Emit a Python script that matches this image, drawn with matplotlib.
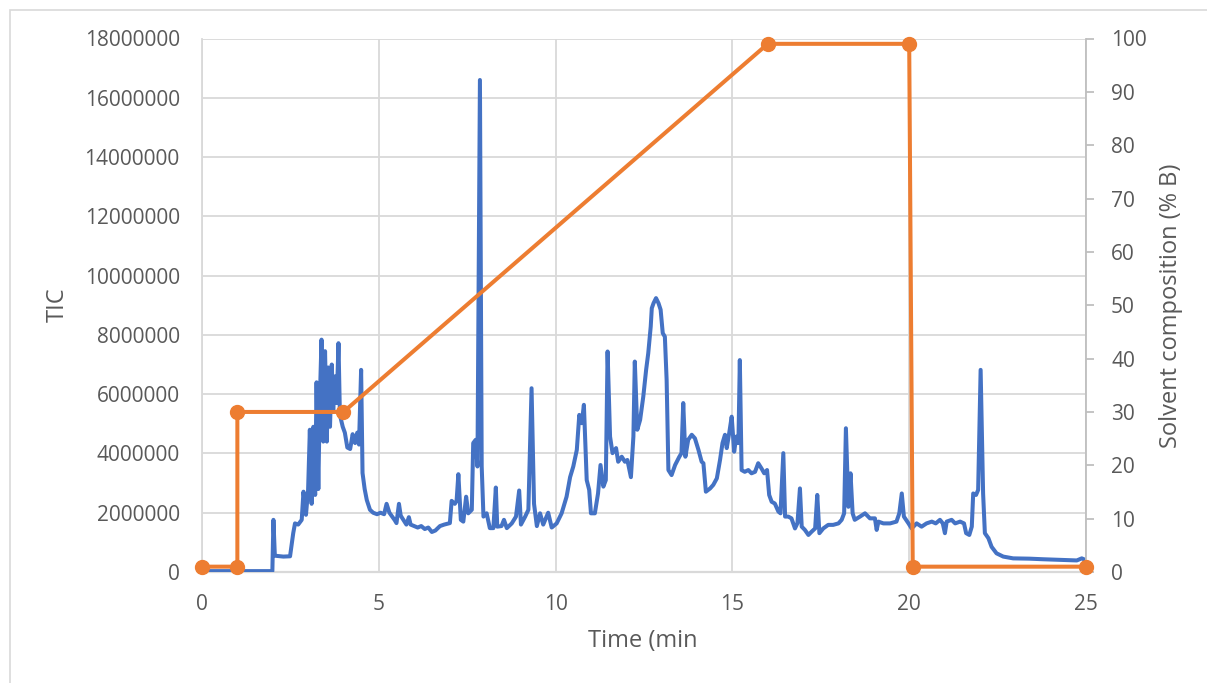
import numpy as np
import matplotlib
matplotlib.use("Agg")
import matplotlib.pyplot as plt
from matplotlib.patches import Rectangle

# ---------------- data ----------------
time_min = [0.0, 1.99, 2.02, 2.06, 2.3, 2.49, 2.58, 2.63, 2.72, 2.82, 2.87, 2.94, 3.0, 3.05, 3.1,
            3.15, 3.2, 3.24, 3.29, 3.33, 3.38, 3.43, 3.48, 3.53, 3.57, 3.62, 3.67, 3.71, 3.76, 3.81,
            3.86, 3.9, 3.98, 4.04, 4.11, 4.19, 4.26, 4.33, 4.39, 4.44, 4.5, 4.54, 4.6, 4.66, 4.75,
            4.84, 4.95, 5.05, 5.15, 5.22, 5.3, 5.36, 5.45, 5.5, 5.57, 5.62, 5.7, 5.78, 5.85, 5.9,
            6.0, 6.1, 6.2, 6.3, 6.4, 6.5, 6.6, 6.73, 6.85, 7.01, 7.06, 7.15, 7.2, 7.25, 7.32,
            7.39, 7.47, 7.53, 7.63, 7.67, 7.74, 7.79, 7.86, 7.91, 7.96, 8.05, 8.14, 8.24, 8.31, 8.35,
            8.47, 8.54, 8.62, 8.76, 8.88, 8.97, 9.02, 9.14, 9.23, 9.32, 9.39, 9.47, 9.56, 9.65, 9.79,
            9.89, 10.03, 10.17, 10.31, 10.41, 10.5, 10.6, 10.67, 10.74, 10.8, 10.88, 10.95, 11.0, 11.11,
            11.2, 11.27, 11.35, 11.42, 11.47, 11.54, 11.61, 11.71, 11.77, 11.87, 11.96, 12.03, 12.13,
            12.2, 12.24, 12.31, 12.39, 12.48, 12.56, 12.62, 12.69, 12.72, 12.77, 12.84, 12.91, 12.97,
            13.03, 13.09, 13.14, 13.19, 13.28, 13.38, 13.5, 13.56, 13.61, 13.67, 13.75, 13.85, 13.94,
            14.04, 14.13, 14.18, 14.25, 14.37, 14.46, 14.56, 14.65, 14.72, 14.79, 14.84, 14.91, 14.98,
            15.05, 15.11, 15.17, 15.21, 15.26, 15.35, 15.45, 15.54, 15.64, 15.73, 15.82, 15.9, 15.98,
            16.04, 16.11, 16.2, 16.3, 16.36, 16.44, 16.49, 16.58, 16.67, 16.77, 16.84, 16.91, 16.96,
            17.05, 17.15, 17.24, 17.34, 17.4, 17.46, 17.57, 17.71, 17.85, 18.0, 18.09, 18.16, 18.21,
            18.28, 18.34, 18.4, 18.46, 18.61, 18.75, 18.89, 19.03, 19.08, 19.13, 19.27, 19.46, 19.64,
            19.72, 19.79, 19.85, 19.98, 20.07, 20.21, 20.35, 20.49, 20.64, 20.75, 20.87, 20.95, 21.01,
            21.06, 21.2, 21.3, 21.44, 21.55, 21.61, 21.7, 21.77, 21.81, 21.89, 21.95, 22.02, 22.09,
            22.14, 22.24, 22.33, 22.47, 22.66, 22.94, 23.4, 23.79, 24.27, 24.74, 24.88, 24.98]

tic_millions = [0.03, 0.03, 1.76, 0.55, 0.52, 0.53, 1.31, 1.64, 1.6, 1.76, 2.71, 1.93, 2.75, 4.8, 2.3,
                4.9, 2.6, 6.4, 2.8, 5.7, 7.84, 4.4, 7.45, 4.4, 6.9, 4.9, 7.0, 5.4, 6.6, 5.7,
                7.72, 5.3, 4.9, 4.7, 4.2, 4.15, 4.65, 4.35, 4.7, 4.3, 6.82, 3.34, 2.8, 2.43, 2.1,
                2.0, 1.95, 2.0, 1.95, 2.3, 2.0, 1.9, 1.75, 1.65, 2.3, 1.9, 1.75, 1.6, 1.85, 1.6,
                1.55, 1.5, 1.55, 1.45, 1.5, 1.35, 1.4, 1.55, 1.6, 1.65, 2.4, 2.3, 2.4, 3.3, 1.76,
                1.7, 2.54, 1.98, 2.1, 4.35, 4.46, 3.56, 16.6, 3.56, 1.87, 1.98, 1.48, 1.48, 2.85, 1.53,
                1.55, 1.76, 1.48, 1.64, 1.87, 2.75, 1.6, 1.87, 2.1, 6.2, 2.3, 1.55, 1.98, 1.6, 2.0,
                1.5, 1.64, 1.98, 2.54, 3.2, 3.56, 4.12, 5.3, 5.02, 5.64, 3.1, 2.77, 1.98, 1.98,
                2.65, 3.61, 2.88, 3.1, 7.44, 4.57, 4.01, 4.18, 3.72, 3.89, 3.72, 3.78, 3.2,
                4.57, 7.1, 4.8, 5.13, 5.92, 6.82, 7.38, 8.28, 8.9, 9.07, 9.24, 9.07, 8.85,
                8.06, 7.94, 6.48, 3.44, 3.27, 3.61, 3.89, 4.01, 5.7, 3.89, 4.46, 4.63, 4.51,
                4.12, 3.72, 3.67, 2.71, 2.82, 2.94, 3.16, 3.78, 4.35, 4.63, 4.18, 4.69, 5.24,
                4.06, 4.57, 4.35, 7.15, 3.44, 3.38, 3.44, 3.33, 3.38, 3.67, 3.5, 3.33, 3.44,
                2.6, 2.37, 2.31, 2.04, 1.98, 4.01, 1.87, 1.87, 1.81, 1.47, 1.65, 2.82, 1.53,
                1.42, 1.25, 1.36, 1.47, 2.6, 1.31, 1.47, 1.59, 1.59, 1.64, 1.76, 1.98, 4.85,
                2.2, 3.33, 1.98, 1.76, 1.87, 1.98, 1.81, 1.81, 1.42, 1.7, 1.64, 1.64, 1.7,
                1.98, 2.65, 1.87, 1.64, 1.47, 1.64, 1.53, 1.64, 1.7, 1.64, 1.76, 1.64, 1.31,
                1.7, 1.76, 1.64, 1.7, 1.64, 1.31, 1.25, 1.53, 2.65, 2.6, 2.77, 6.82, 2.65,
                1.31, 1.14, 0.85, 0.63, 0.52, 0.46, 0.45, 0.43, 0.41, 0.39, 0.46, 0.41]

gradient_time = [0, 1, 1, 4, 16, 20, 20.1, 25]
gradient_pct_b = [1, 1, 30, 30, 99, 99, 1, 1]

x_ticks = [0, 5, 10, 15, 20, 25]
left_ticks = [0, 2000000, 4000000, 6000000, 8000000, 10000000, 12000000, 14000000, 16000000, 18000000]
right_ticks = [0, 10, 20, 30, 40, 50, 60, 70, 80, 90, 100]

x_label = "Time (min"
left_label = "TIC"
right_label = "Solvent composition (% B)"

# ---------------- style ----------------
BLUE = "#4472C4"
ORANGE = "#ED7D31"
GRID = "#D9D9D9"
TEXT = "#595959"
FONT = ["Open Sans", "DejaVu Sans"]

plt.rcParams['font.family'] = FONT

W, H = 1207, 683
fig = plt.figure(figsize=(W / 100, H / 100), dpi=100)
fig.patch.set_facecolor("white")

left_px, right_px, top_px, bottom_px = 202, 1086, 38.5, 572
ax = fig.add_axes([left_px / W, 1 - bottom_px / H, (right_px - left_px) / W, (bottom_px - top_px) / H])
ax2 = ax.twinx()

tic = np.array(tic_millions) * 1e6
ax.plot(time_min, tic, color=BLUE, lw=2.9, solid_joinstyle="round", solid_capstyle="round", zorder=3)

ax2.plot(gradient_time, gradient_pct_b, color=ORANGE, lw=2.9, marker="o", markersize=10,
         markerfacecolor=ORANGE, markeredgecolor=ORANGE, solid_joinstyle="round", zorder=4, clip_on=False)

ax.set_xlim(0, 25)
ax.set_ylim(0, 18000000)
ax2.set_ylim(0, 100)

ax.set_xticks(x_ticks)
ax.set_yticks(left_ticks)
ax.set_yticklabels([str(v) for v in left_ticks])
ax2.set_yticks(right_ticks)

ax.grid(True, color=GRID, lw=1.3)
ax.set_axisbelow(True)

for s in ["top", "right"]:
    ax.spines[s].set_visible(False)
ax.spines["left"].set_color(GRID)
ax.spines["left"].set_linewidth(1.3)
ax.spines["bottom"].set_color(GRID)
ax.spines["bottom"].set_linewidth(1.6)
for s in ["top", "left", "bottom"]:
    ax2.spines[s].set_visible(False)
ax2.spines["right"].set_color("#BFBFBF")
ax2.spines["right"].set_linewidth(1.3)

ax.tick_params(axis="x", length=0, pad=16, labelsize=15, labelcolor=TEXT)
ax.tick_params(axis="y", length=0, pad=16, labelsize=15, labelcolor=TEXT)
ax2.tick_params(axis="y", length=6, width=1.3, color="#BFBFBF", pad=12, labelsize=15, labelcolor=TEXT)

fig.text(58 / W, 1 - 305 / H, left_label, rotation=90, ha="center", va="center",
         fontsize=17, color=TEXT)
fig.text(643 / W, 1 - 641 / H, x_label, ha="center", va="center", fontsize=17, color=TEXT)
fig.text(1171 / W, 1 - 306 / H, right_label, rotation=90, ha="center", va="center",
         fontsize=17, color=TEXT)

fig.patches.append(Rectangle((9.5 / W, -0.2), 1.5, 1.2 - 9.5 / H, transform=fig.transFigure,
                             fill=False, edgecolor=GRID, lw=1.2, zorder=0))

fig.savefig("out.png", dpi=100, facecolor="white")
